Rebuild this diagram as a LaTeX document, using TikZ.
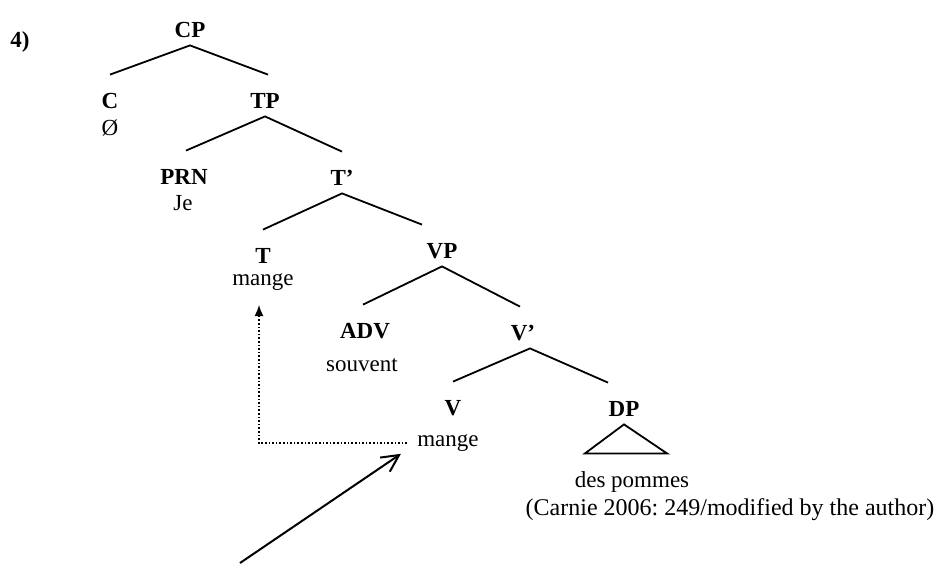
\documentclass[tikz,border=0pt]{standalone}
\usepackage{fontspec}
\setmainfont{Liberation Serif}
\usetikzlibrary{arrows.meta}
\tikzstyle{branch} = [draw, line width=0.9pt]
\tikzstyle{move} = [draw, densely dotted, line width=0.8pt, -{Latex[length=2mm,width=1.6mm]}]
\tikzstyle{pointer} = [draw, line width=1pt, -{Straight Barb[length=3mm,width=3mm]}]
\frenchspacing
\begin{document}
\begin{tikzpicture}[x=0.5pt, y=-0.5pt,
    cat/.style={font=\fontsize{11.5}{13}\selectfont\bfseries, text height=8pt, text depth=0pt, inner xsep=1pt, inner ysep=4pt},
    word/.style={font=\fontsize{11.5}{13}\selectfont, inner sep=1pt}]
    \useasboundingbox (0,0) rectangle (942,563);
    % labels
    \node[cat] (num) at (20,39) {4)};
    \node[cat] (CP) at (190,29) {CP};
    \node[cat] (C) at (110,100) {C};
    \node[word] (null) at (110,128) {Ø};
    \node[cat] (TP) at (265,100) {TP};
    \node[cat] (PRN) at (184,176) {PRN};
    \node[word] (je) at (183,203) {Je};
    \node[cat] (Tbar) at (342,177) {T'};
    \node[cat] (T) at (263,255) {T};
    \node[word] (mangeT) at (263,282) {mange};
    \node[cat] (VP) at (442,250) {VP};
    \node[cat] (ADV) at (365,330) {ADV};
    \node[word] (souvent) at (362,365) {souvent};
    \node[cat] (Vbar) at (523,332) {V'};
    \node[cat] (V) at (453,407) {V};
    \node[word] (mangeV) at (448,443) {mange};
    \node[cat] (DP) at (624,408) {DP};
    \node[word] (pommes) at (632,482) {des pommes};
    \node[word, font=\fontsize{12}{14}\selectfont] (source) at (730,510) {(Carnie 2006: 249/modified by the author)};
    \coordinate (tail) at (240,563);
    % branches
    \path [branch] ([yshift=4.5pt]C.north) -- (CP.south) -- ([xshift=1.5pt,yshift=4.5pt]TP.north);
    \path [branch] ([xshift=1pt,yshift=4.5pt]PRN.north) -- (TP.south) -- ([yshift=4.5pt]Tbar.north);
    \path [branch] ([yshift=4.5pt]T.north) -- (Tbar.south) -- ([xshift=-10pt,yshift=4.5pt]VP.north);
    \path [branch] ([xshift=-1pt,yshift=4.5pt]ADV.north) -- (VP.south) -- ([xshift=-1.5pt,yshift=4.5pt]Vbar.north);
    \path [branch] ([yshift=4.5pt]V.north) -- ([xshift=3.5pt]Vbar.south) -- ([xshift=-8pt,yshift=4.5pt]DP.north);
    % triangle
    \path [branch] (DP.south) -- ++(-39,29) -- ++(82,0) -- cycle;
    % arrows
    \path [move, shorten <=4pt] (mangeV.west) -| ([xshift=-2pt,yshift=-6pt]mangeT.south);
    \path [pointer] (tail) -- ([xshift=-7pt]mangeV.south west);
\end{tikzpicture}
\end{document}
